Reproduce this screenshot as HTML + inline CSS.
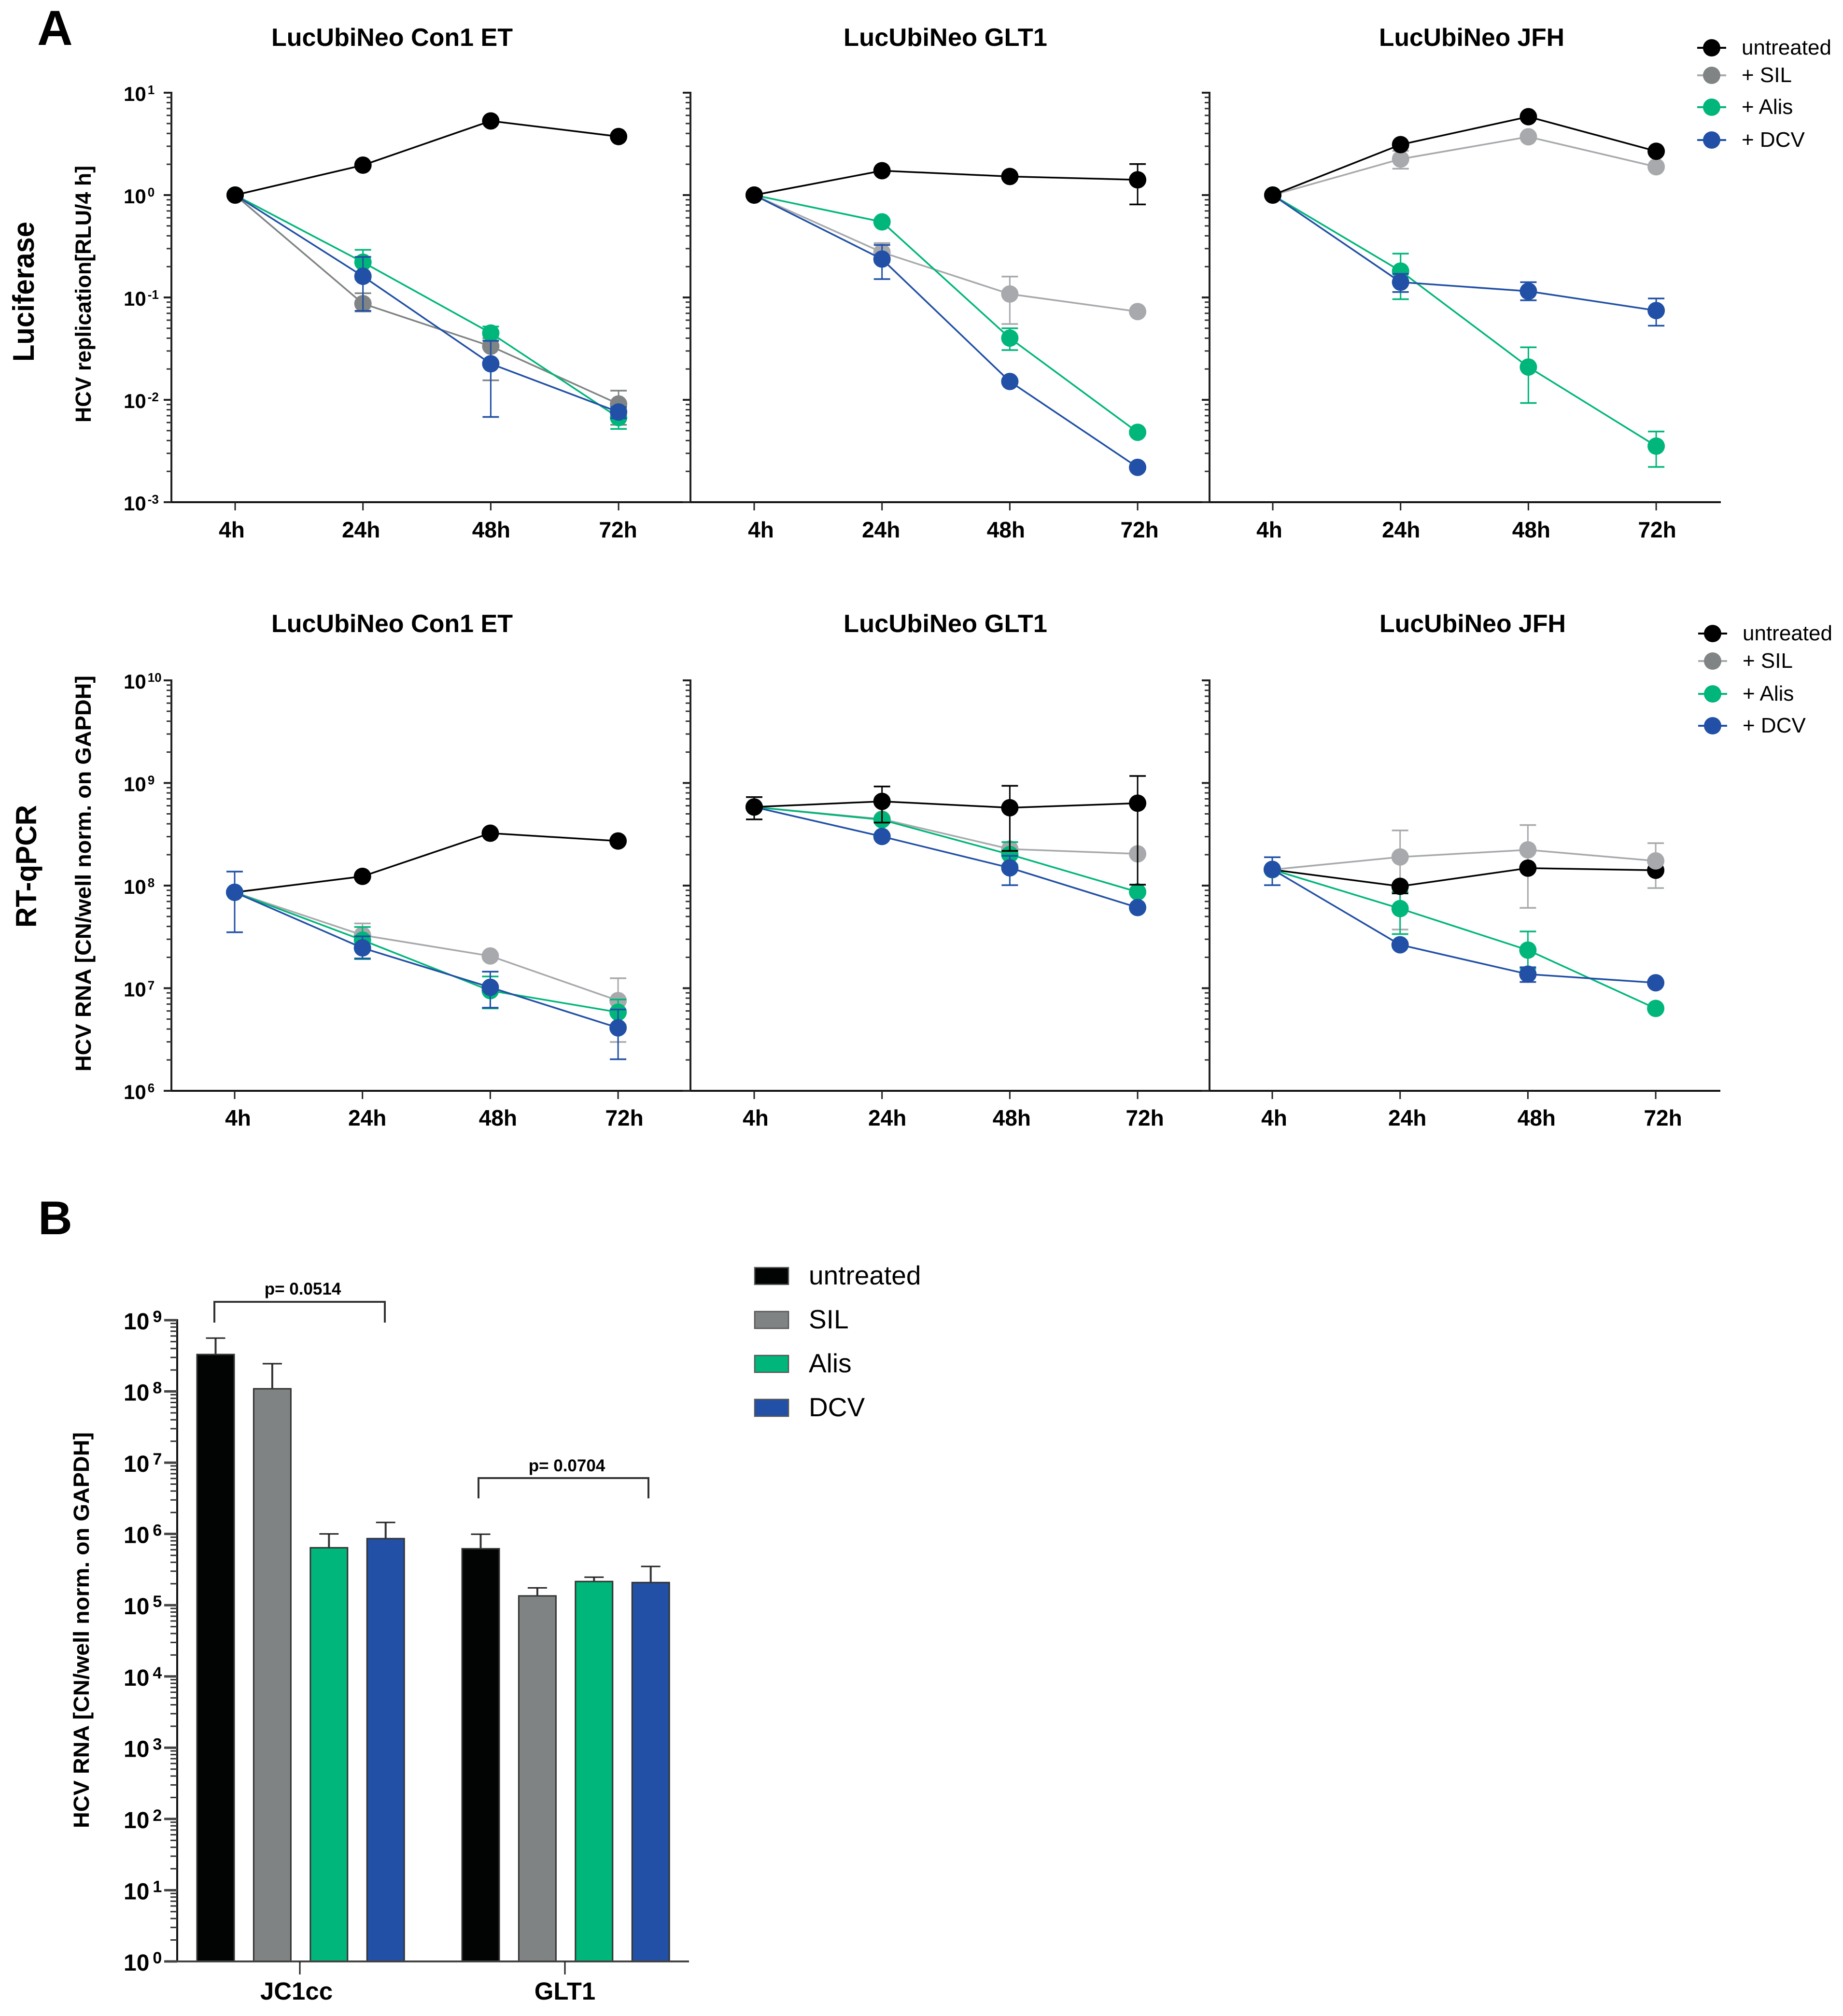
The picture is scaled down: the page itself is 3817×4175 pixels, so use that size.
<!DOCTYPE html>
<html lang="en">
<head>
<meta charset="utf-8">
<title>HCV replication time courses and RNA levels</title>
<style>
  html, body { margin: 0; padding: 0; background: #fff; }
  svg { display: block; font-family: "Liberation Sans", sans-serif; }
  text { fill: #000; }
  .b { font-weight: 700; }
</style>
</head>
<body>
<svg id="figure" xmlns="http://www.w3.org/2000/svg" width="3817" height="4175" viewBox="0 0 3817 4175">
  <rect x="0" y="0" width="3817" height="4175" fill="#fff"/>
  <text class="b" x="77" y="93" font-size="102">A</text>
  <text class="b" x="79" y="2556" font-size="98">B</text>

  <text class="b" x="812" y="95" font-size="52" text-anchor="middle" textLength="500" lengthAdjust="spacingAndGlyphs">LucUbiNeo Con1 ET</text>
  <text class="b" x="1958" y="95" font-size="52" text-anchor="middle" textLength="422" lengthAdjust="spacingAndGlyphs">LucUbiNeo GLT1</text>
  <text class="b" x="3048" y="95" font-size="52" text-anchor="middle" textLength="384" lengthAdjust="spacingAndGlyphs">LucUbiNeo JFH</text>
  <text class="b" x="812" y="1309" font-size="52" text-anchor="middle" textLength="500" lengthAdjust="spacingAndGlyphs">LucUbiNeo Con1 ET</text>
  <text class="b" x="1958" y="1309" font-size="52" text-anchor="middle" textLength="422" lengthAdjust="spacingAndGlyphs">LucUbiNeo GLT1</text>
  <text class="b" x="3050" y="1309" font-size="52" text-anchor="middle" textLength="386" lengthAdjust="spacingAndGlyphs">LucUbiNeo JFH</text>

  <text class="b" transform="translate(70 604) rotate(-90)" font-size="62" text-anchor="middle" textLength="290" lengthAdjust="spacingAndGlyphs">Luciferase</text>
  <text class="b" transform="translate(75 1794) rotate(-90)" font-size="60" text-anchor="middle" textLength="254" lengthAdjust="spacingAndGlyphs">RT-qPCR</text>
  <text class="b" transform="translate(188 609) rotate(-90)" font-size="45" text-anchor="middle" textLength="532" lengthAdjust="spacingAndGlyphs">HCV replication[RLU/4 h]</text>
  <text class="b" transform="translate(188 1809) rotate(-90)" font-size="45" text-anchor="middle" textLength="820" lengthAdjust="spacingAndGlyphs">HCV RNA [CN/well norm. on GAPDH]</text>
  <text class="b" transform="translate(184 3376) rotate(-90)" font-size="45" text-anchor="middle" textLength="820" lengthAdjust="spacingAndGlyphs">HCV RNA [CN/well norm. on GAPDH]</text>

  <g id="row-luciferase"></g>
  <g id="row-pcr"></g>
  <g id="legends"></g>
  <g id="bars"></g>
</svg>

<script>
/* ---------- shared categories ---------- */
const timepoints = ['4h', '24h', '48h', '72h'];
const seriesNames = ['untreated', '+ SIL', '+ Alis', '+ DCV'];
const lucDecades = [1, 0, -1, -2, -3];
const pcrDecades = [10, 9, 8, 7, 6];

/* ---------- Luciferase, order: untreated, SIL, Alis, DCV ---------- */
const lucCon1Mean = [[1, 1.96, 5.3, 3.73], [1, 0.087, 0.0334, 0.0091], [1, 0.221, 0.0449, 0.0067], [1, 0.161, 0.0225, 0.0076]];
const lucCon1High = [[null, null, null, null], [null, 0.11, 0.04, 0.0123], [null, 0.292, 0.052, 0.0082], [null, 0.249, 0.0377, 0.0085]];
const lucCon1Low = [[null, null, null, null], [null, 0.073, 0.0155, 0.0057], [null, 0.15, 0.038, 0.0052], [null, 0.074, 0.0068, 0.0066]];

const lucGlt1Mean = [[1, 1.73, 1.52, 1.41], [1, 0.276, 0.108, 0.0728], [1, 0.547, 0.0401, 0.00482], [1, 0.237, 0.0151, 0.00219]];
const lucGlt1High = [[null, null, null, 2.01], [null, 0.34, 0.16, null], [null, null, 0.05, null], [null, 0.326, null, null]];
const lucGlt1Low = [[null, null, null, 0.81], [null, 0.22, 0.055, null], [null, null, 0.0306, null], [null, 0.151, null, null]];

const lucJfhMean = [[1, 3.11, 5.83, 2.68], [1, 2.25, 3.71, 1.89], [1, 0.181, 0.0209, 0.00353], [1, 0.141, 0.115, 0.0745]];
const lucJfhHigh = [[null, null, null, null], [null, 2.7, null, null], [null, 0.268, 0.0326, 0.0049], [null, 0.17, 0.141, 0.0977]];
const lucJfhLow = [[null, null, null, null], [null, 1.81, null, null], [null, 0.0961, 0.0093, 0.00221], [null, 0.113, 0.0938, 0.053]];

/* ---------- RT-qPCR ---------- */
const pcrCon1Mean = [[8.6e7, 1.23e8, 3.24e8, 2.72e8], [8.6e7, 3.29e7, 2.06e7, 7.57e6], [8.6e7, 2.94e7, 9.47e6, 5.83e6], [8.6e7, 2.47e7, 1.02e7, 4.11e6]];
const pcrCon1High = [[null, null, null, null], [null, 4.28e7, null, 1.25e7], [null, 3.95e7, 1.3e7, 7.76e6], [1.37e8, 3.2e7, 1.45e7, 6.2e6]];
const pcrCon1Low = [[null, null, null, null], [null, 2.5e7, null, 2.99e6], [null, 1.92e7, 6.35e6, 4.4e6], [3.51e7, 1.95e7, 6.46e6, 2.03e6]];

const pcrGlt1Mean = [[5.83e8, 6.62e8, 5.74e8, 6.35e8], [5.83e8, 4.45e8, 2.27e8, 2.04e8], [5.83e8, 4.38e8, 2.01e8, 8.67e7], [5.83e8, 3.01e8, 1.49e8, 6.11e7]];
const pcrGlt1High = [[7.28e8, 9.25e8, 9.38e8, 1.17e9], [null, null, 2.65e8, null], [null, null, 2.65e8, null], [null, null, 1.95e8, null]];
const pcrGlt1Low = [[4.42e8, 4.11e8, 2.18e8, 1.02e8], [null, null, 1.9e8, null], [null, null, 1.6e8, null], [null, null, 1.01e8, null]];

const pcrJfhMean = [[1.43e8, 9.84e7, 1.48e8, 1.41e8], [1.43e8, 1.9e8, 2.23e8, 1.74e8], [1.43e8, 5.97e7, 2.35e7, 6.35e6], [1.44e8, 2.65e7, 1.37e7, 1.13e7]];
const pcrJfhHigh = [[null, null, null, null], [null, 3.45e8, 3.89e8, 2.59e8], [null, 8.73e7, 3.57e7, null], [1.89e8, null, 1.6e7, null]];
const pcrJfhLow = [[null, 8.4e7, null, null], [null, 3.73e7, 6.07e7, 9.46e7], [null, 3.37e7, 1.55e7, null], [1.01e8, null, 1.15e7, null]];

/* ---------- Bars ---------- */
const barGroups = ['JC1cc', 'GLT1'];
const barSeries = ['untreated', 'SIL', 'Alis', 'DCV'];
const jc1ccBarValues = [3.3e8, 1.09e8, 6.4e5, 8.6e5];
const jc1ccBarErrors = [5.6e8, 2.45e8, 1.0e6, 1.45e6];
const glt1BarValues = [6.2e5, 1.35e5, 2.15e5, 2.08e5];
const glt1BarErrors = [9.9e5, 1.75e5, 2.47e5, 3.5e5];
const barDecades = [9, 8, 7, 6, 5, 4, 3, 2, 1, 0];

/* ---------- styles ---------- */
const lineColors = ['#000000', '#a7a9ac', '#00b67a', '#2150a6'];
const markerColors = ['#000000', '#a7a9ac', '#00b67a', '#2150a6'];
const legendMarkerColors = ['#000000', '#808484', '#00b67a', '#2150a6'];
const barFills = ['#020404', '#7f8383', '#00b67a', '#2150a6'];
const darkSil = '#808484';

const NS = 'http://www.w3.org/2000/svg';

function mk(tag, parent, attrs) {
  const el = document.createElementNS(NS, tag);
  for (const k in attrs) el.setAttribute(k, attrs[k]);
  parent.appendChild(el);
  return el;
}

function slug(s) {
  return s.replace(/[^a-zA-Z0-9]+/g, '-').replace(/^-|-$/g, '').toLowerCase();
}

function powerLabel(parent, rightX, y, exp, size, supSize, supRise, gap, name) {
  const t = mk('text', parent, { x: rightX, y: y, 'font-size': size, 'font-weight': 700 });
  
  
  t.textContent = '10';
  const s = mk('tspan', t, { dx: gap, dy: -supRise, 'font-size': supSize });
  s.textContent = String(exp);
  return t;
}

function logScale(topDecade, topY, decadePx) {
  return function (v) { return topY + (topDecade - Math.log10(v)) * decadePx; };
}

function drawPanel(root, cfg) {
  const g = mk('g', root, {});
  
  

  const decades = cfg.decades;
  const topDecade = decades[0];
  const botDecade = decades[decades.length - 1];
  const decadePx = (cfg.bottom - cfg.top) / (topDecade - botDecade);
  const y = logScale(topDecade, cfg.top, decadePx);
  const x = function (i) { return cfg.x0 + i * cfg.step; };
  const colorFor = function (s) { return (s === 1 && cfg.silColor) ? cfg.silColor : lineColors[s]; };

  /* y axis */
  const yAxis = mk('line', g, { x1: cfg.axisX, x2: cfg.axisX, y1: cfg.top - 2, y2: cfg.bottom, stroke: '#222', 'stroke-width': 4 });
  
  

  decades.forEach(function (d) {
    const tick = mk('line', g, { x1: cfg.axisX - 16, x2: cfg.axisX, y1: y(Math.pow(10, d)), y2: y(Math.pow(10, d)), stroke: '#222', 'stroke-width': 4 });
    
    
    if (cfg.showYLabels) {
      powerLabel(g, 256, y(Math.pow(10, d)) + 17, d, 42, 26, 14, 3, 'y-tick-label');
    }
    if (d > botDecade) {
      for (let m = 2; m <= 9; m++) {
        const py = y(m * Math.pow(10, d - 1));
        const minor = mk('line', g, { x1: cfg.axisX - 10, x2: cfg.axisX, y1: py, y2: py, stroke: '#333', 'stroke-width': 3 });
        
        
      }
    }
  });

  /* x axis */
  const xAxis = mk('line', g, { x1: cfg.axisX, x2: cfg.xEnd, y1: cfg.bottom, y2: cfg.bottom, stroke: '#111', 'stroke-width': 4 });
  
  

  timepoints.forEach(function (label, i) {
    const tick = mk('line', g, { x1: x(i), x2: x(i), y1: cfg.bottom, y2: cfg.bottom + 17, stroke: '#222', 'stroke-width': 3 });
    
    
    const t = mk('text', g, { x: x(i) + cfg.labelNudge[i], y: cfg.labelY, 'font-size': 46, 'font-weight': 700, 'text-anchor': 'middle' });
    
    
    t.textContent = label;
  });

  function drawErrors(parent, s) {
    const color = colorFor(s);
    timepoints.forEach(function (_, i) {
      const hi = cfg.high[s][i];
      const lo = cfg.low[s][i];
      [hi, lo].forEach(function (v) {
        if (v === null) return;
        const stem = mk('line', parent, { x1: x(i), x2: x(i), y1: y(cfg.mean[s][i]), y2: y(v), stroke: color, 'stroke-width': 3 });
        
        
        const cap = mk('line', parent, { x1: x(i) - 17, x2: x(i) + 17, y1: y(v), y2: y(v), stroke: color, 'stroke-width': 3.5 });
        
        
      });
    });
  }

  if (cfg.errorsFirst) {
    const eg = mk('g', g, {});
    
    
    cfg.order.forEach(function (s) { drawErrors(eg, s); });
  }

  /* series */
  cfg.order.forEach(function (s) {
    const color = colorFor(s);
    const sg = mk('g', g, {});
    
    

    if (!cfg.errorsFirst) drawErrors(sg, s);

    const pts = cfg.mean[s].map(function (v, i) { return x(i) + ',' + y(v); }).join(' ');
    const line = mk('polyline', sg, { points: pts, fill: 'none', stroke: color, 'stroke-width': 3.5 });
    
    

    cfg.mean[s].forEach(function (v, i) {
      const c = mk('circle', sg, { cx: x(i), cy: y(v), r: 18, fill: (s === 1 && cfg.silColor) ? cfg.silColor : markerColors[s] });
      
      
    });
  });
}

const rowLuc = document.getElementById('row-luciferase');
const rowPcr = document.getElementById('row-pcr');

const lucPanels = [
  { name: 'chart-luc-con1', mean: lucCon1Mean, high: lucCon1High, low: lucCon1Low, axisX: 355, xEnd: 1428, x0: 487, labelNudge: [-7, -4, 1, -1], showYLabels: true, order: [1, 2, 3, 0], silColor: darkSil },
  { name: 'chart-luc-glt1', mean: lucGlt1Mean, high: lucGlt1High, low: lucGlt1Low, axisX: 1430, xEnd: 2504, x0: 1562, labelNudge: [14, -2, -8, 4], showYLabels: false, order: [1, 2, 3, 0] },
  { name: 'chart-luc-jfh', mean: lucJfhMean, high: lucJfhHigh, low: lucJfhLow, axisX: 2505, xEnd: 3564, x0: 2636, labelNudge: [-7, 1, 6, 2], showYLabels: false, order: [1, 2, 3, 0] }
];
lucPanels.forEach(function (p) {
  p.decades = lucDecades;
  p.top = 192;
  p.bottom = 1040;
  p.step = 264.7;
  p.labelY = 1113;
  drawPanel(rowLuc, p);
});

const pcrPanels = [
  { name: 'chart-pcr-con1', mean: pcrCon1Mean, high: pcrCon1High, low: pcrCon1Low, axisX: 355, xEnd: 1428, x0: 486, labelNudge: [7, 10, 16, 13], showYLabels: true, order: [0, 1, 2, 3] },
  { name: 'chart-pcr-glt1', mean: pcrGlt1Mean, high: pcrGlt1High, low: pcrGlt1Low, axisX: 1430, xEnd: 2504, x0: 1562, labelNudge: [3, 11, 4, 15], showYLabels: false, order: [1, 2, 3, 0] },
  { name: 'chart-pcr-jfh', mean: pcrJfhMean, high: pcrJfhHigh, low: pcrJfhLow, axisX: 2505, xEnd: 3563, x0: 2635, labelNudge: [4, 15, 18, 15], showYLabels: false, order: [0, 1, 2, 3], errorsFirst: true }
];
pcrPanels.forEach(function (p) {
  p.decades = pcrDecades;
  p.top = 1409;
  p.bottom = 2259;
  p.step = 264.7;
  p.labelY = 2331;
  drawPanel(rowPcr, p);
});

/* ---------- line legends ---------- */
const legendRoot = document.getElementById('legends');
function drawLineLegend(name, markerX, textX, rowYs) {
  const g = mk('g', legendRoot, {});
  
  
  seriesNames.forEach(function (label, i) {
    const ry = rowYs[i];
    const ln = mk('line', g, { x1: markerX - 30, x2: markerX + 30, y1: ry, y2: ry, stroke: lineColors[i], 'stroke-width': 4 });
    
    
    const c = mk('circle', g, { cx: markerX, cy: ry, r: 18, fill: legendMarkerColors[i] });
    
    
    const t = mk('text', g, { x: textX, y: ry + 14, 'font-size': 44 });
    
    
    t.textContent = label;
  });
}
drawLineLegend('legend-luciferase', 3545, 3607, [99, 156, 222, 290]);
drawLineLegend('legend-rt-qpcr', 3547, 3609, [1312, 1369, 1437, 1503]);

/* ---------- bar chart ---------- */
const barRoot = document.getElementById('bars');
const barTop = 2734;
const barBottom = 4062;
const barAxisX = 367;
const barAxisEnd = 1427;
const barDecadePx = (barBottom - barTop) / (barDecades[0] - barDecades[barDecades.length - 1]);
const barY = logScale(barDecades[0], barTop, barDecadePx);
const barWidth = 77;
const barPitch = 117.4;
const groupStarts = [408, 957];
const groupTicks = [621, 1170];
const groupLabelNudge = [-7, 0];

function barX(groupIndex, seriesIndex) {
  return groupStarts[groupIndex] + seriesIndex * barPitch;
}

const barAxis = mk('line', barRoot, { x1: barAxisX, x2: barAxisX, y1: barTop - 2, y2: barBottom, stroke: '#111', 'stroke-width': 4 });



barDecades.forEach(function (d) {
  const py = barY(Math.pow(10, d));
  const tick = mk('line', barRoot, { x1: barAxisX - 27, x2: barAxisX, y1: py, y2: py, stroke: '#444', 'stroke-width': 5 });
  
  
  powerLabel(barRoot, 256, py + 19, d, 48, 34, 15, 7, 'bar-y-tick-label');
  if (d > 0) {
    for (let m = 2; m <= 9; m++) {
      const my = barY(m * Math.pow(10, d - 1));
      const minor = mk('line', barRoot, { x1: barAxisX - 14, x2: barAxisX, y1: my, y2: my, stroke: '#333', 'stroke-width': 3 });
      
      
    }
  }
});

[[jc1ccBarValues, jc1ccBarErrors], [glt1BarValues, glt1BarErrors]].forEach(function (pair, gi) {
  const group = mk('g', barRoot, {});
  
  
  pair[0].forEach(function (v, si) {
    const bx = barX(gi, si);
    const cx = bx + barWidth / 2;
    const stem = mk('line', group, { x1: cx, x2: cx, y1: barY(v), y2: barY(pair[1][si]), stroke: '#333', 'stroke-width': 4 });
    
    
    const cap = mk('line', group, { x1: cx - 20, x2: cx + 20, y1: barY(pair[1][si]), y2: barY(pair[1][si]), stroke: '#222', 'stroke-width': 3 });
    
    
    const r = mk('rect', group, { x: bx, y: barY(v), width: barWidth, height: barBottom - barY(v), fill: barFills[si], stroke: '#333', 'stroke-width': 3 });
    
    
  });
});

const barXAxis = mk('line', barRoot, { x1: barAxisX, x2: barAxisEnd, y1: barBottom, y2: barBottom, stroke: '#444', 'stroke-width': 4 });



barGroups.forEach(function (label, i) {
  const tick = mk('line', barRoot, { x1: groupTicks[i], x2: groupTicks[i], y1: barBottom, y2: barBottom + 27, stroke: '#222', 'stroke-width': 3 });
  
  
  const t = mk('text', barRoot, { x: groupTicks[i] + groupLabelNudge[i], y: 4141, 'font-size': 51, 'font-weight': 700, 'text-anchor': 'middle' });
  
  
  t.textContent = label;
});

/* significance brackets */
function bracket(x1, x2, topY, legY, labelX, labelY, label, name) {
  const g = mk('g', barRoot, {});
  
  
  const p = mk('polyline', g, { points: x1 + ',' + legY + ' ' + x1 + ',' + topY + ' ' + x2 + ',' + topY + ' ' + x2 + ',' + legY, fill: 'none', stroke: '#333', 'stroke-width': 4 });
  
  
  const t = mk('text', g, { x: labelX, y: labelY, 'font-size': 35, 'font-weight': 700, 'text-anchor': 'middle' });
  
  
  t.textContent = label;
}
bracket(444, 797, 2696, 2739, 627, 2681, 'p= 0.0514', 'significance-jc1cc');
bracket(991, 1343, 3061, 3103, 1174, 3047, 'p= 0.0704', 'significance-glt1');

/* bar legend */
const barLegendRows = [2642, 2733, 2824, 2915];
barSeries.forEach(function (label, i) {
  const g = mk('g', barRoot, {});
  
  
  const sw = mk('rect', g, { x: 1563, y: barLegendRows[i] - 17, width: 70, height: 35, fill: barFills[i], stroke: '#555', 'stroke-width': 2.5 });
  
  
  const t = mk('text', g, { x: 1675, y: barLegendRows[i] + 18, 'font-size': 55 });
  
  
  t.textContent = label;
});
</script>
</body>
</html>
